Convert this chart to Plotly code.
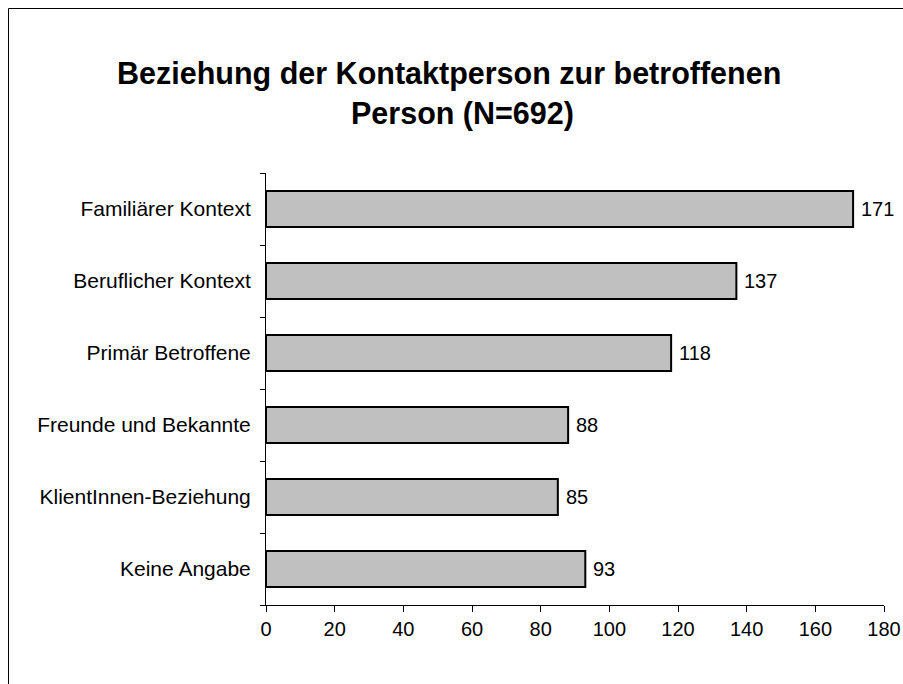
import plotly.graph_objects as go

categories = ["Familiärer Kontext", "Beruflicher Kontext", "Primär Betroffene",
              "Freunde und Bekannte", "KlientInnen-Beziehung", "Keine Angabe"]
values = [171, 137, 118, 88, 85, 93]
x_ticks = [0, 20, 40, 60, 80, 100, 120, 140, 160, 180]
title_lines = ["Beziehung der Kontaktperson zur betroffenen", "Person (N=692)"]

W, H = 903, 684
ml, mr, mt, mb = 266, 19, 173, 79
pw, ph = W - ml - mr, H - mt - mb
font = "Liberation Sans, Arial"


def px(x):
    return (x - ml) / pw


def py(y):
    return (H - mb - y) / ph


fig = go.Figure(go.Bar(
    y=categories, x=values, orientation="h",
    marker=dict(color="#C0C0C0", line=dict(color="black", width=2)),
    cliponaxis=False, hoverinfo="skip",
))

value_labels = [dict(text=str(v), x=v, y=c, xref="x", yref="y",
                     xanchor="left", yanchor="middle", xshift=6, showarrow=False,
                     font=dict(family=font, size=20, color="black"))
                for c, v in zip(categories, values)]

title_annots = [
    dict(text="<b>" + title_lines[0] + "</b>", xref="paper", yref="paper",
         x=px(449), y=py(74), xanchor="center", yanchor="middle", showarrow=False,
         font=dict(family=font, size=30.5, color="black")),
    dict(text="<b>" + title_lines[1] + "</b>", xref="paper", yref="paper",
         x=px(462), y=py(114), xanchor="center", yanchor="middle", showarrow=False,
         font=dict(family=font, size=30.5, color="black")),
]

fig.update_layout(
    width=W, height=H, autosize=False,
    margin=dict(l=ml, r=mr, t=mt, b=mb),
    paper_bgcolor="white", plot_bgcolor="white",
    bargap=0.5, showlegend=False,
    font=dict(family=font, size=20, color="black"),
    xaxis=dict(range=[0, 180], tickvals=x_ticks, showgrid=False, zeroline=False,
               automargin=False,
               showline=True, linecolor="black", linewidth=1,
               ticks="outside", ticklen=6, tickcolor="black", tickwidth=1,
               tickfont=dict(family=font, size=20)),
    yaxis=dict(categoryorder="array", categoryarray=categories[::-1],
               automargin=False,
               showgrid=False, showline=True, linecolor="black", linewidth=1,
               ticks="outside", ticklen=5, tickcolor="black", tickson="boundaries",
               ticklabelstandoff=10,
               tickfont=dict(family=font, size=21)),
    annotations=title_annots + value_labels,
    shapes=[dict(type="rect", xref="paper", yref="paper",
                 x0=px(8.5), x1=1.2, y0=-0.5, y1=py(8.5),
                 line=dict(color="black", width=1), fillcolor="rgba(0,0,0,0)")],
)

fig.write_html("out.html", config={"displayModeBar": False},
               post_script="document.body.style.margin='0';document.body.style.overflow='hidden';")
